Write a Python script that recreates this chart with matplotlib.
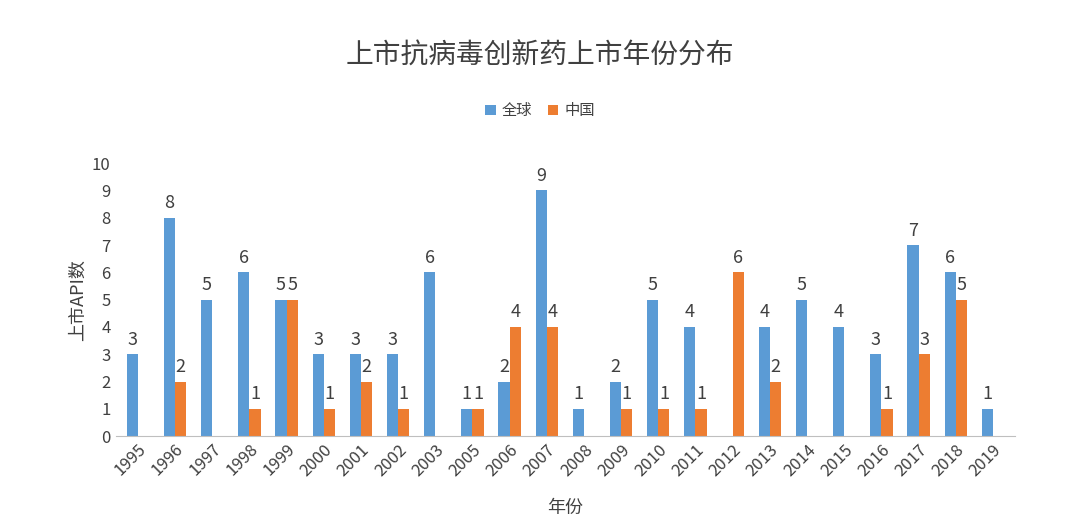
import numpy as np
import matplotlib.pyplot as plt

plt.rcParams['font.family'] = ['Noto Sans CJK SC', 'DejaVu Sans']

years = ['1995', '1996', '1997', '1998', '1999', '2000', '2001', '2002', '2003', '2005',
         '2006', '2007', '2008', '2009', '2010', '2011', '2012', '2013', '2014', '2015',
         '2016', '2017', '2018', '2019']
world = [3, 8, 5, 6, 5, 3, 3, 3, 6, 1, 2, 9, 1, 2, 5, 4, 0, 4, 5, 4, 3, 7, 6, 1]
china = [0, 2, 0, 1, 5, 1, 2, 1, 0, 1, 4, 4, 0, 1, 1, 1, 6, 2, 0, 0, 1, 3, 5, 0]

blue = '#5B9BD5'
orange = '#ED7D31'
txt = '#404040'

fig = plt.figure(figsize=(10.8, 5.28), dpi=100)
ax = fig.add_axes([0.107, 0.174, 0.833, 0.517])
x = np.arange(len(years))
w = 0.3
b1 = ax.bar(x - w / 2, world, w, color=blue, label='全球')
b2 = ax.bar(x + w / 2, china, w, color=orange, label='中国')
for bars in (b1, b2):
    for r in bars:
        h = r.get_height()
        if h > 0:
            ax.text(r.get_x() + r.get_width() / 2, h + 0.2, str(int(h)),
                    ha='center', va='bottom', fontsize=13, color=txt)

ax.set_xlim(-0.6, len(years) - 0.4)
ax.set_ylim(0, 10)
ax.set_yticks(range(11))
ax.set_xticks(x)
ax.set_xticklabels(years, rotation=45, ha='right', rotation_mode='anchor')
ax.tick_params(axis='both', length=0, labelsize=12, colors=txt)
for s in ['top', 'right', 'left']:
    ax.spines[s].set_visible(False)
ax.spines['bottom'].set_color('#BFBFBF')
ax.set_ylabel('上市API数', fontsize=13, color=txt)
ax.set_xlabel('年份', fontsize=13, color=txt, labelpad=14)

fig.text(0.5, 0.895, '上市抗病毒创新药上市年份分布', ha='center', va='center',
         fontsize=20, color=txt)
fig.legend(loc='center', bbox_to_anchor=(0.5, 0.79), ncol=2, frameon=False,
           fontsize=11, handlelength=0.7, handleheight=0.7, labelcolor=txt,
           columnspacing=1.0, handletextpad=0.4)

fig.savefig('out.png')
